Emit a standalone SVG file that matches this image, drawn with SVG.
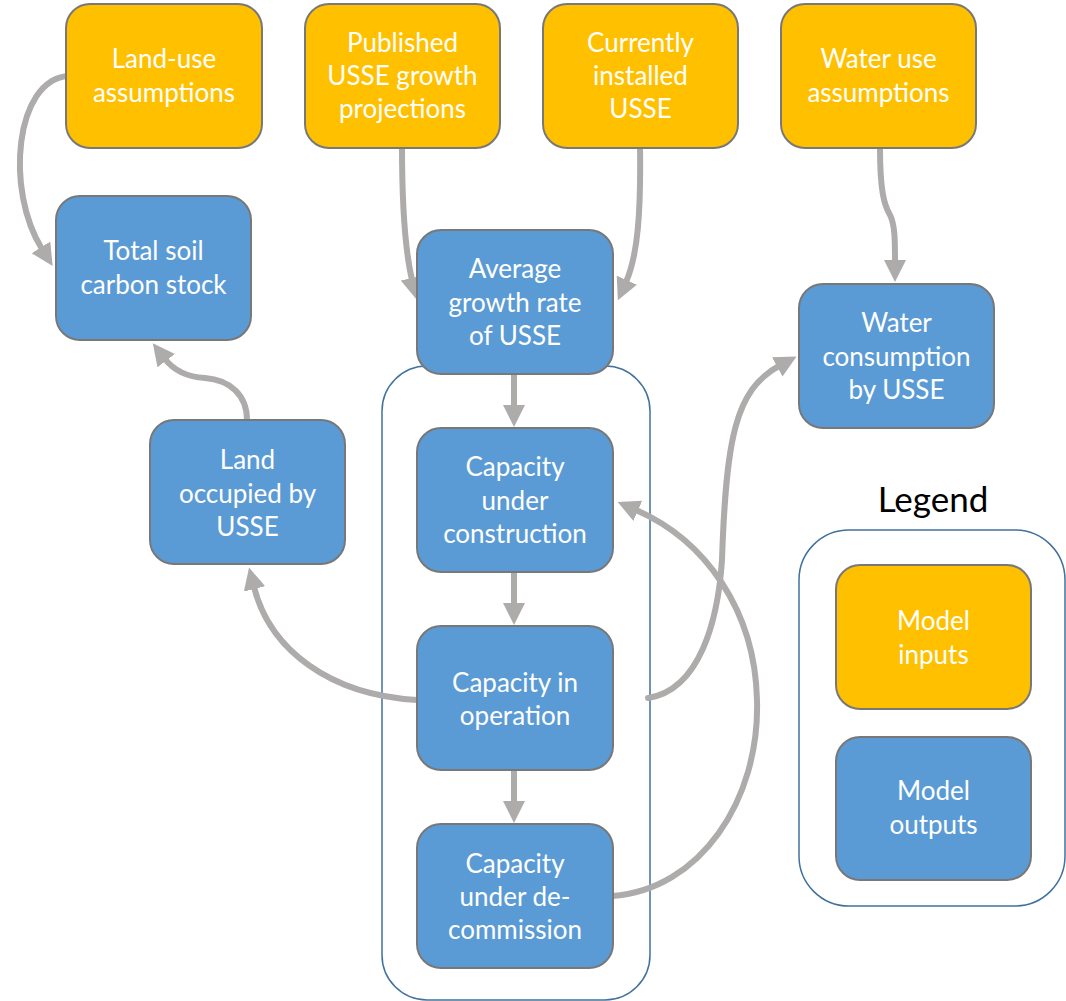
<svg xmlns="http://www.w3.org/2000/svg" width="1066" height="1001" viewBox="0 0 1066 1001">
<defs>
<marker id="ah" viewBox="0 0 22 22" markerUnits="userSpaceOnUse" markerWidth="22" markerHeight="22" refX="2" refY="11" orient="auto">
<path d="M0,0 L22,11 L0,22 z" fill="#AEABAB"/>
</marker>
<style>
.in{fill:#FFC000;stroke:#787878;stroke-width:2}
.out{fill:#5B9BD5;stroke:#787878;stroke-width:2}
.grp{fill:none;stroke:#41719C;stroke-width:1.5}
.t{font-family:Lato,"Open Sans",sans-serif;font-size:26px;fill:#FFFFFF;text-anchor:middle}
.c{fill:none;stroke:#AEABAB;stroke-width:6;stroke-linecap:round;marker-end:url(#ah)}
</style>
</defs>
<rect width="1066" height="1001" fill="#FFFFFF"/>
<g id="groups">
<rect class="grp" x="382" y="366" width="268" height="634" rx="45"/>
<rect class="grp" x="799" y="530" width="266" height="376" rx="50"/>
</g>
<g id="connectors">
<path class="c" d="M68,76 C15,80 5,190 42,249"/>
<path class="c" d="M402,146 C402,210 405,250 412,280"/>
<path class="c" d="M640,146 C641,210 638,255 626,282"/>
<path class="c" d="M880,148 C880,190 884,205 890,215 C895,225 895,240 895,262"/>
<path class="c" d="M514,374 L514,407"/>
<path class="c" d="M514,572 L514,605"/>
<path class="c" d="M514,770 L514,803"/>
<path class="c" d="M247,420 C247,395 230,380 205,378 C188,377 175,372 165,359"/>
<path class="c" d="M417,700 C330,695 270,650 254,587"/>
<path class="c" d="M648,698 C700,690 718,620 722,560 C726,440 735,390 779,366"/>
<path class="c" d="M612,896 C700,890 760,800 757,700 C755,610 705,540 636,510"/>
</g>
<g id="landuse"><rect class="in" x="66" y="4" width="196" height="144" rx="24"/><text class="t" x="164" y="68">Land-use</text><text class="t" x="164" y="102">assumptions</text></g>
<g id="published"><rect class="in" x="305" y="4" width="195" height="144" rx="24"/><text class="t" x="402.5" y="52">Published</text><text class="t" x="402.5" y="85">USSE growth</text><text class="t" x="402.5" y="118">projections</text></g>
<g id="installed"><rect class="in" x="543" y="4" width="195" height="144" rx="24"/><text class="t" x="640.5" y="52">Currently</text><text class="t" x="640.5" y="85">installed</text><text class="t" x="640.5" y="118">USSE</text></g>
<g id="wateruse"><rect class="in" x="781" y="4" width="195" height="144" rx="24"/><text class="t" x="878.5" y="68">Water use</text><text class="t" x="878.5" y="102">assumptions</text></g>
<g id="soilcarbon"><rect class="out" x="56" y="196" width="195" height="144" rx="24"/><text class="t" x="153.5" y="260">Total soil</text><text class="t" x="153.5" y="294">carbon stock</text></g>
<g id="growthrate"><rect class="out" x="417" y="230" width="196" height="144" rx="24"/><text class="t" x="515" y="278">Average</text><text class="t" x="515" y="312">growth rate</text><text class="t" x="515" y="345">of USSE</text></g>
<g id="waterconsumption"><rect class="out" x="799" y="284" width="195" height="144" rx="24"/><text class="t" x="896.5" y="332">Water</text><text class="t" x="896.5" y="366">consumption</text><text class="t" x="896.5" y="399">by USSE</text></g>
<g id="landoccupied"><rect class="out" x="150" y="420" width="195" height="144" rx="24"/><text class="t" x="247.5" y="469">Land</text><text class="t" x="247.5" y="503">occupied by</text><text class="t" x="247.5" y="536">USSE</text></g>
<g id="construction"><rect class="out" x="417" y="428" width="196" height="144" rx="24"/><text class="t" x="515" y="476">Capacity</text><text class="t" x="515" y="510">under</text><text class="t" x="515" y="543">construction</text></g>
<g id="operation"><rect class="out" x="417" y="626" width="196" height="144" rx="24"/><text class="t" x="515" y="692">Capacity in</text><text class="t" x="515" y="725">operation</text></g>
<g id="decommission"><rect class="out" x="417" y="824" width="196" height="144" rx="24"/><text class="t" x="515" y="873">Capacity</text><text class="t" x="515" y="906">under de-</text><text class="t" x="515" y="939">commission</text></g>
<g id="legend">
<text x="933" y="512" style="font-family:Lato,'Open Sans',sans-serif;font-size:35px;fill:#000000;text-anchor:middle">Legend</text>
</g>
<g id="modelinputs"><rect class="in" x="836" y="565" width="195" height="144" rx="24"/><text class="t" x="933.5" y="630">Model</text><text class="t" x="933.5" y="664">inputs</text></g>
<g id="modeloutputs"><rect class="out" x="836" y="737" width="195" height="143" rx="24"/><text class="t" x="933.5" y="800">Model</text><text class="t" x="933.5" y="834">outputs</text></g>
</svg>
